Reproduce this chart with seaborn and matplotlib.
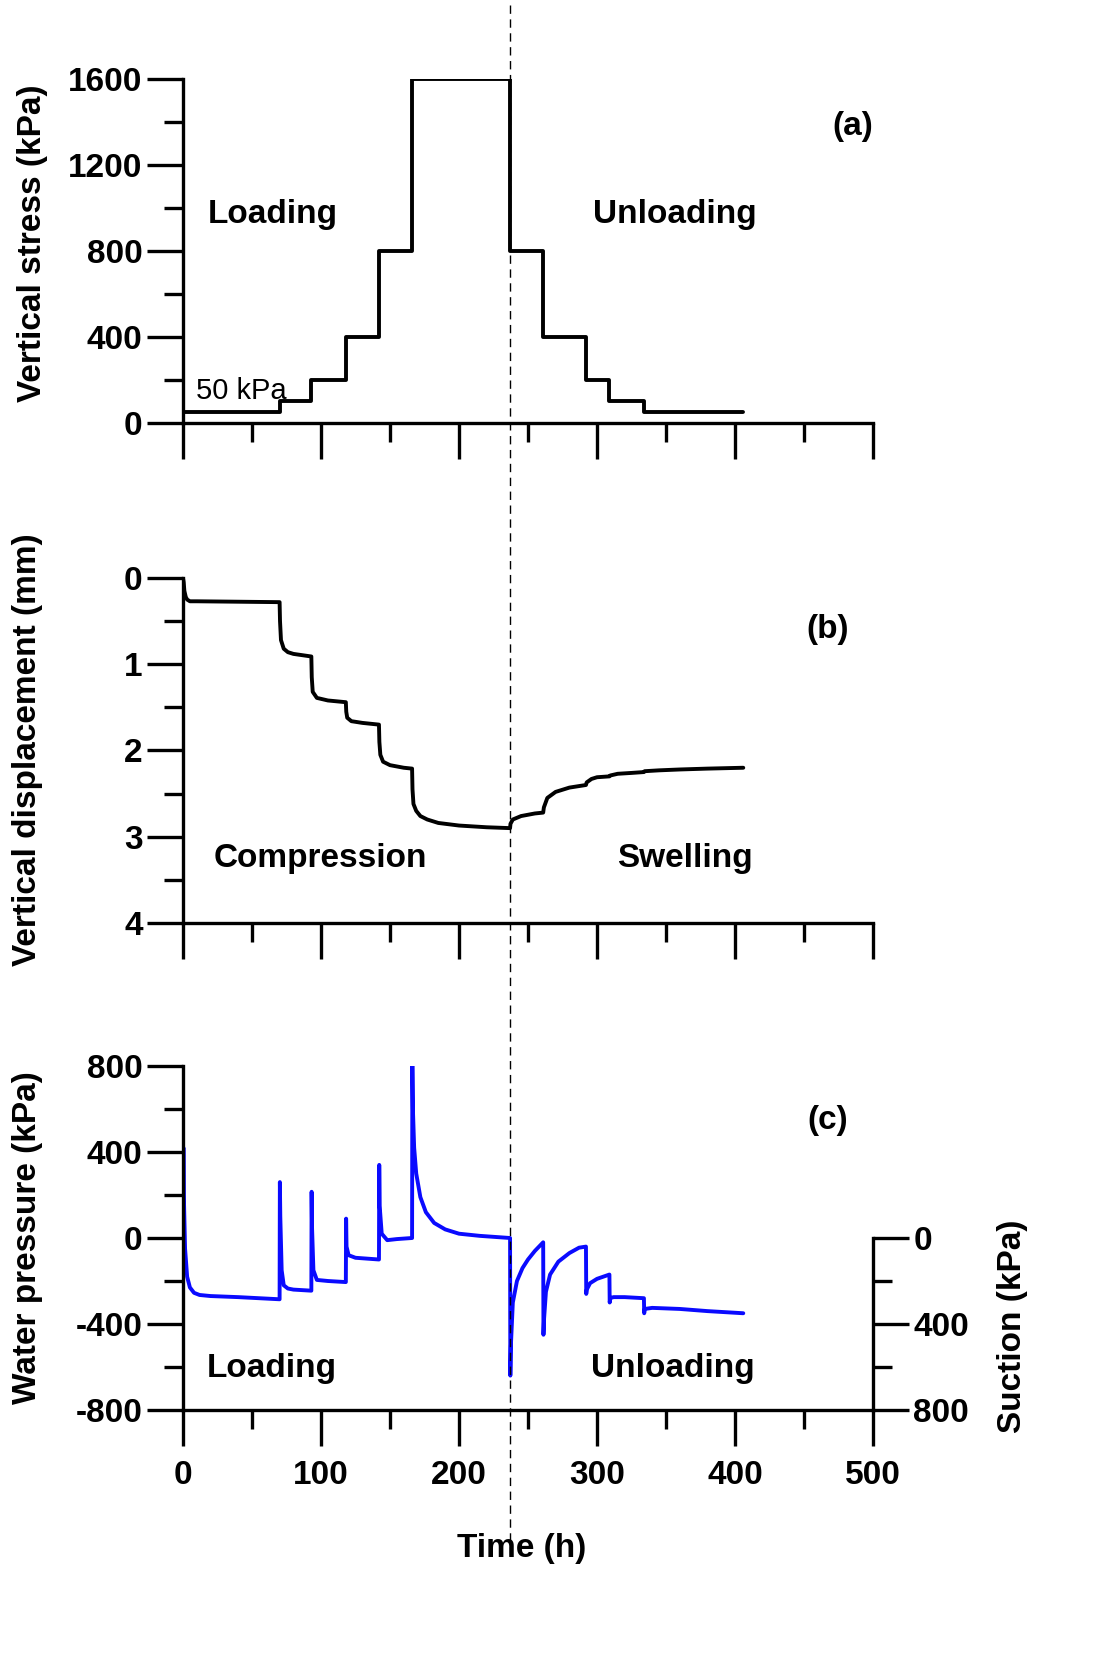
import numpy as np
import matplotlib
matplotlib.use("Agg")
import matplotlib.pyplot as plt
import seaborn as sns
from matplotlib.lines import Line2D
from matplotlib.ticker import MultipleLocator

sns.set_theme(style="white")
plt.rcParams['font.family'] = ['Liberation Sans', 'DejaVu Sans']
plt.rcParams['axes.unicode_minus'] = False
plt.rcParams['text.color'] = 'black'
plt.rcParams['xtick.color'] = 'black'
plt.rcParams['ytick.color'] = 'black'
plt.rcParams['axes.labelcolor'] = 'black'

# Panel (a): vertical stress steps
stress_t = [0, 70, 70, 93, 93, 118, 118, 142, 142, 166, 166, 237, 237, 261, 261, 292, 292, 309, 309, 334, 334, 406]
stress_v = [50, 50, 100, 100, 200, 200, 400, 400, 800, 800, 1600, 1600, 800, 800, 400, 400, 200, 200, 100, 100, 50, 50]

# Panel (b): vertical displacement
disp_t = [0, 0.5, 1, 2, 3, 5, 10, 70, 70.3, 71, 73, 76, 80, 93, 93.3, 94, 97, 105, 118, 118.3, 119, 122, 130, 142,
          142.3, 143, 145, 150, 160, 166, 166.3, 167, 169, 172, 177, 185, 200, 220, 237,
          237.3, 239, 245, 255, 261, 261.5, 264, 270, 280, 292, 292.5, 296, 300, 309, 309.5, 315, 325, 334, 334.5, 345, 360, 380, 406]
disp_v = [0, 0.05, 0.15, 0.22, 0.25, 0.27, 0.27, 0.28, 0.5, 0.72, 0.82, 0.86, 0.88, 0.91, 1.15, 1.32, 1.39, 1.42, 1.44, 1.55, 1.62, 1.66, 1.68, 1.7,
          1.9, 2.05, 2.13, 2.17, 2.2, 2.21, 2.45, 2.62, 2.7, 2.76, 2.8, 2.84, 2.87, 2.89, 2.9,
          2.85, 2.8, 2.76, 2.73, 2.72, 2.66, 2.55, 2.48, 2.43, 2.4, 2.37, 2.33, 2.31, 2.3, 2.29, 2.27, 2.26, 2.25, 2.24, 2.23, 2.22, 2.21, 2.2]

# Panel (c): water pressure
wp_t = [0, 0.3, 0.6, 1.5, 3, 5, 8, 12, 20, 40, 70,
        70.2, 70.5, 71.5, 73, 76, 80, 93, 93.2, 93.5, 94.5, 97, 105, 118, 118.2, 118.5, 120, 125, 142,
        142.2, 142.5, 144, 148, 155, 166, 166.2, 166.6, 167.5, 169, 172, 176, 182, 190, 200, 215, 237,
        237.2, 237.6, 239, 242, 246, 250, 255, 261, 261.2, 261.6, 263, 266, 272, 280, 287, 292,
        292.2, 292.6, 295, 300, 309, 309.2, 309.6, 312, 320, 334, 334.2, 334.6, 340, 360, 380, 406]
wp_v = [50, 420, 200, -50, -180, -230, -255, -265, -270, -275, -285,
        260, 100, -150, -220, -235, -240, -245, 215, 50, -150, -195, -200, -205, 90, -40, -80, -92, -100,
        340, 150, 20, -10, -5, 0, 800, 600, 420, 300, 190, 120, 70, 40, 20, 10, 0,
        -640, -500, -300, -200, -140, -100, -60, -20, -450, -380, -250, -170, -110, -70, -45, -40,
        -260, -240, -210, -190, -170, -300, -280, -275, -275, -280, -350, -330, -325, -330, -340, -350]

W, H = 1101, 1670
fig = plt.figure(figsize=(W / 100, H / 100), dpi=100)
left = 183 / W
width = 690 / W

def add_ax(top_px, bot_px):
    return fig.add_axes([left, 1 - bot_px / H, width, (bot_px - top_px) / H])

axa = add_ax(79, 423)
axb = add_ax(578, 923)
axc = add_ax(1066, 1410)

FS = 24
bold = dict(fontsize=FS, fontweight='bold', color='black')
MAJ, MIN, LW = 26, 14, 2.4

for ax in (axa, axb, axc):
    ax.set_facecolor('none')
    for s in ('top', 'right'):
        ax.spines[s].set_visible(False)
    for s in ('left', 'bottom'):
        ax.spines[s].set_linewidth(LW)
        ax.spines[s].set_color('black')
    ax.set_xlim(0, 500)
    ax.spines['bottom'].set_bounds(0, 500)
    ax.xaxis.set_major_locator(MultipleLocator(100))
    ax.xaxis.set_minor_locator(MultipleLocator(50))
    ax.tick_params(axis='both', which='major', direction='out', length=MAJ, width=LW, color='black', pad=3,
                   bottom=True, left=True, labelcolor='black')
    ax.tick_params(axis='both', which='minor', direction='out', length=MIN, width=LW, color='black',
                   bottom=True, left=True)

sns.lineplot(x=stress_t, y=stress_v, ax=axa, color='black', linewidth=2.8, sort=False, estimator=None)
axa.set_ylim(0, 1600)
axa.yaxis.set_major_locator(MultipleLocator(400))
axa.yaxis.set_minor_locator(MultipleLocator(200))
axa.set_xticklabels([])

sns.lineplot(x=disp_t, y=disp_v, ax=axb, color='black', linewidth=2.8, sort=False, estimator=None)
axb.set_ylim(4, 0)
axb.yaxis.set_major_locator(MultipleLocator(1))
axb.yaxis.set_minor_locator(MultipleLocator(0.5))
axb.set_xticklabels([])

sns.lineplot(x=wp_t, y=wp_v, ax=axc, color='#0a0aff', linewidth=2.8, sort=False, estimator=None)
axc.set_ylim(-800, 800)
axc.yaxis.set_major_locator(MultipleLocator(400))
axc.yaxis.set_minor_locator(MultipleLocator(200))
axc.tick_params(axis='x', which='major', pad=10)

axs = axc.twinx()
axs.set_ylim(800, -800)
for s in ('top', 'left', 'bottom'):
    axs.spines[s].set_visible(False)
axs.spines['right'].set_bounds(0, 800)
axs.spines['right'].set_linewidth(LW)
axs.spines['right'].set_color('black')
axs.set_yticks([0, 400, 800])
axs.set_yticks([200, 600], minor=True)
axs.tick_params(axis='y', which='major', direction='out', length=MAJ, width=LW, color='black', right=True, pad=3,
                labelcolor='black')
axs.tick_params(axis='y', which='minor', direction='out', length=MIN, width=LW, color='black', right=True)

for ax in (axa, axb, axc, axs):
    ax.set_xlabel('')
    ax.set_ylabel('')
    ax.grid(False)
    for lab in ax.get_yticklabels() + ax.get_xticklabels():
        lab.set_fontsize(FS)
        lab.set_fontweight('bold')
        lab.set_color('black')

def ft(x, y, s, **kw):
    fig.text(x / W, 1 - y / H, s, ha='center', va='center', **kw)

ft(33, 243, 'Vertical stress (kPa)', rotation=90, **bold)
ft(28, 750, 'Vertical displacement (mm)', rotation=90, **bold)
ft(28, 1238, 'Water pressure (kPa)', rotation=90, **bold)
ft(1013, 1326, 'Suction (kPa)', rotation=90, **bold)
ft(522, 1548, 'Time (h)', **bold)
ft(853, 126, '(a)', **bold)
ft(273, 214, 'Loading', **bold)
ft(675, 214, 'Unloading', **bold)
ft(241, 391, '50 kPa', fontsize=21, color='black')
ft(828, 629, '(b)', **bold)
ft(320, 858, 'Compression', **bold)
ft(685, 858, 'Swelling', **bold)
ft(828, 1120, '(c)', **bold)
ft(272, 1368, 'Loading', **bold)
ft(673, 1368, 'Unloading', **bold)

xd = left + width * 237 / 500
fig.add_artist(Line2D([xd, xd], [1 - 5 / H, 1 - 1560 / H], transform=fig.transFigure,
                      color='black', linestyle=(0, (6, 4)), linewidth=1))

fig.savefig('out.png', dpi=100, facecolor='white')
